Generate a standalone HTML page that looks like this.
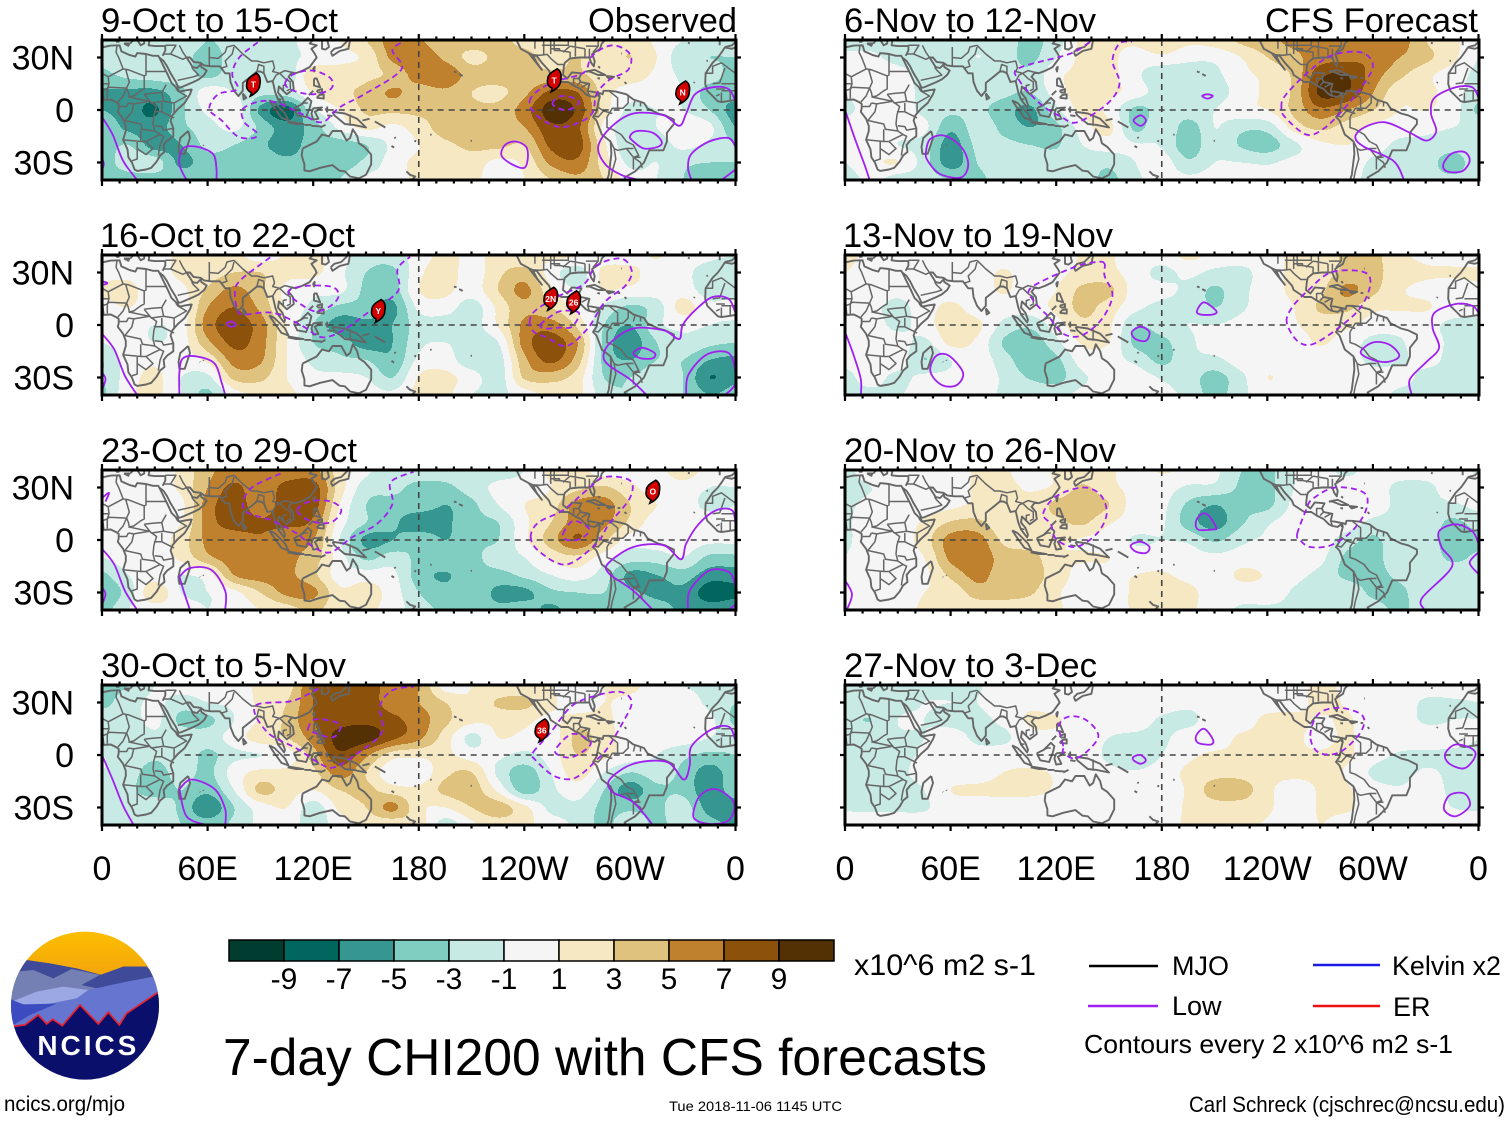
<!DOCTYPE html>
<html lang="en">
<head>
<meta charset="utf-8">
<title>7-day CHI200 with CFS forecasts</title>
<style>
html,body{margin:0;padding:0;background:#fff}
svg{display:block}
text{font-family:"Liberation Sans",sans-serif;fill:#000}
</style>
</head>
<body>
<svg id="chart" xmlns="http://www.w3.org/2000/svg" width="1510" height="1121" viewBox="0 0 1510 1121">
<rect x="0" y="0" width="1510" height="1121" fill="#fff"/>
<g id="panels"></g>

<g font-size="34">
<text x="101" y="32" textLength="237" lengthAdjust="spacingAndGlyphs">9-Oct to 15-Oct</text>
<text x="100" y="247" textLength="255" lengthAdjust="spacingAndGlyphs">16-Oct to 22-Oct</text>
<text x="101" y="462" textLength="256" lengthAdjust="spacingAndGlyphs">23-Oct to 29-Oct</text>
<text x="101" y="677" textLength="245" lengthAdjust="spacingAndGlyphs">30-Oct to 5-Nov</text>
<text x="844" y="32" textLength="252" lengthAdjust="spacingAndGlyphs">6-Nov to 12-Nov</text>
<text x="843" y="247" textLength="270" lengthAdjust="spacingAndGlyphs">13-Nov to 19-Nov</text>
<text x="844" y="462" textLength="272" lengthAdjust="spacingAndGlyphs">20-Nov to 26-Nov</text>
<text x="844" y="677" textLength="253" lengthAdjust="spacingAndGlyphs">27-Nov to 3-Dec</text>
<text x="588" y="32" textLength="149" lengthAdjust="spacingAndGlyphs">Observed</text>
<text x="1265" y="32" textLength="213" lengthAdjust="spacingAndGlyphs">CFS Forecast</text>
</g>

<g id="colorbar"></g>
<text x="854" y="975" font-size="30" textLength="182" lengthAdjust="spacingAndGlyphs">x10^6 m2 s-1</text>
<text x="223" y="1075" font-size="51.5" textLength="764" lengthAdjust="spacingAndGlyphs">7-day CHI200 with CFS forecasts</text>

<g>
<line x1="1089" y1="966" x2="1158" y2="966" stroke="#000" stroke-width="2.4"/>
<text x="1172" y="975" font-size="27">MJO</text>
<line x1="1088" y1="1006" x2="1158" y2="1006" stroke="#a020f0" stroke-width="2.4"/>
<text x="1172" y="1015" font-size="27">Low</text>
<line x1="1313" y1="965" x2="1380" y2="965" stroke="#1a1ae6" stroke-width="2.4"/>
<text x="1392" y="975" font-size="27" textLength="109" lengthAdjust="spacingAndGlyphs">Kelvin x2</text>
<line x1="1313" y1="1006" x2="1380" y2="1006" stroke="#f01010" stroke-width="2.4"/>
<text x="1393" y="1016" font-size="27">ER</text>
<text x="1084" y="1053" font-size="26" textLength="369" lengthAdjust="spacingAndGlyphs">Contours every 2 x10^6 m2 s-1</text>
</g>

<text x="4" y="1111" font-size="21" textLength="121" lengthAdjust="spacingAndGlyphs">ncics.org/mjo</text>
<text x="669" y="1111" font-size="14" textLength="173" lengthAdjust="spacingAndGlyphs">Tue 2018-11-06 1145 UTC</text>
<text x="1189" y="1112" font-size="22" textLength="316" lengthAdjust="spacingAndGlyphs">Carl Schreck (cjschrec@ncsu.edu)</text>

<defs>
<clipPath id="logo-clip"><circle cx="255" cy="242" r="222"/></clipPath>
<linearGradient id="logo-sky" x1="0" y1="0" x2="0" y2="1"><stop offset="0" stop-color="#fdc000"/><stop offset="1" stop-color="#ef9a10"/></linearGradient>
</defs>
<g transform="translate(0,925) scale(0.3333)">
<g clip-path="url(#logo-clip)">
<rect x="20" y="10" width="480" height="200" fill="url(#logo-sky)"/>
<polygon points="80,105 150,115 230,130 305,150 370,125 440,125 490,170 490,260 20,260 60,110" fill="#3f4a98"/>
<polygon points="50,140 100,135 160,160 215,132 300,150 245,180 300,190 150,260 20,240 30,190" fill="#7480b4"/>
<polygon points="245,180 300,150 370,125 440,125 460,155 380,170 300,192" fill="#3f4a98"/>
<polygon points="40,228 110,200 190,185 265,195 230,220 130,240 70,238" fill="#9ca8e4"/>
<polygon points="30,225 70,238 130,240 230,220 265,195 380,170 460,155 480,205 480,330 30,330" fill="#6676d0"/>
<polygon points="30,222 70,238 170,236 90,270 40,300 30,300" fill="#3c4cc0"/>
<polygon points="30,305 75,300 115,270 140,297 158,283 187,302 240,240 295,297 325,262 358,300 380,265 470,205 490,200 490,480 20,480" fill="#0a0f6c" stroke="#e8202a" stroke-width="5"/>
</g>
<text x="112" y="390" font-size="84" font-weight="bold" style="fill:#fff" textLength="297" lengthAdjust="spacing">NCICS</text>
</g>
</svg>

<script>
/* ---------- axis + legend values ---------- */
const lonTickLabels = ["0","60E","120E","180","120W","60W","0"];
const lonTickValues = [0,60,120,180,240,300,360];
const latTickLabels = ["30N","0","30S"];
const latTickValues = [30,0,-30];
const valueLevels = [-9,-7,-5,-3,-1,1,3,5,7,9];
const bandColors = ["#003c30","#01665e","#35978f","#80cdc1","#c7eae5","#f5f5f5","#f6e8c3","#dfc27d","#bf812d","#8c510a","#543005"];
const gridLatitudes = [40,30,20,10,0,-10,-20,-30,-40];
const gridLonStep = 15;

/* ---------- CHI200 anomaly, rows north to south, columns 0..360 every 15 deg ---------- */
const chiOct09 = [
[-2,-2,-2.5,-2,-3,-2.5,-2,-1.5,0,1,3,6,5.2,3.5,4,3.5,2.5,2,2,1,2.5,0.5,-1,-2,-2],
[-2.5,-2,-2,-2.5,-3.5,-2.5,-2.5,-1.5,-0.5,0.5,1.5,5.5,6.5,4.5,2.5,3.5,3.5,2.5,3,2,3,1,-2.5,-3,-3],
[-3.5,-2.5,-2,-2,-3.5,-2,-2.5,-2.5,2.5,2,2.5,3.5,6,6.5,4,4,3.5,3.5,3.5,2,2,0.5,-1.5,-2,-4],
[-5.3,-5.5,-5.7,-3.5,0,-1,-2.5,-2,1,2.5,3.5,5.3,4,4.5,3,2.5,4.5,7.5,7,2,0,0,-1,-4,-4],
[-5,-6,-7.3,-3.5,-0.5,0.5,-5.5,-8,-1.5,1,3.3,3.5,3.5,3.5,3.5,3.7,6,10,8.5,2,-1.5,-1,-1,-3,-6],
[-3.5,-5.5,-6,-3.5,-2,-0.5,-3.5,-6,-4,-0.5,1.5,0.5,2,4,4,4,5,8.5,7.5,0.5,-2,-1,0.5,-0.5,-5],
[-4,-3,-6,-5,-2.5,-3,-4.5,-6,-4,-4,-3,-0.5,1,2.5,3.5,3.5,3,7.5,8,1.5,-2.5,-2,-0.5,-1.5,-3],
[-4,-2,-2,-5.5,-3.8,-3.8,-3.7,-4.5,-4,-4,-2.5,0,1.5,1.5,2,0.5,1.5,5.5,6.5,2,-1.5,-1,-2.5,-3,-3],
[-4,-4,-4,-3.5,-3.5,-4,-4,-4,-4,-3,-0.5,0,1.5,1.5,1.5,0,1,3,4.5,3,0,-1,-3,-5,-3.5]];
const chiOct16 = [
[0,0,0,1.5,1.5,1.5,0,1.2,1.5,0,-2,-2,0,1.5,0.5,1.5,1,1.5,1.2,0,0,1.2,0,-0.5,-1],
[0.5,0.5,0,1.5,2,3,3,1.5,1.5,-0.5,-3,-3.5,0.5,2,0,2.5,3.8,0,-2,1.5,1.5,0,-0.5,-2,-3],
[1.3,1.5,0,0.5,3.3,5.5,3.5,0.5,-0.5,-0.5,-3.5,-4,1,1.5,0,3,5.5,1.5,-1,1,0.5,0,0,-2,-2],
[0.5,1,0,-0.3,5,7,4.5,0.5,-1.5,-3.5,-3.8,-5.5,-0.5,0,-2,1.5,4.5,3,0.5,-1.5,-3.5,-2,1.8,-0.5,0],
[0,0,-1,0,6,8,6,1,-3,-6,-5.5,-5,-2,-2,-2,1.2,5.5,6,2.5,-3,-5,-1.5,-0.5,-1,-1.5],
[-1,0,-1,0,4.5,7.5,5.8,1,-3,-4,-6,-5,-1.5,-1,-2,-1,6,8,5,-3.5,-6,-3,-1.5,-2.5,-3],
[-3,0,0.5,0,1.5,5.8,5.3,1,-1.5,-2.5,-3,-4.5,-0.5,0,-2.5,-2,4.5,7.5,4,-3.5,-5,-3,-3,-5,-5.5],
[-3,0,1.5,-1,-1.5,3.5,3.5,1,-0.5,-0.5,-1,-3,1.2,1.5,0,-2,3.3,3.8,2,-3,-3,-1.5,-3,-7,-5.5],
[-3.5,0.5,1.5,-1,-3.5,0,1.5,1.5,0,0,0,-0.5,1.5,1.5,-1,-1.5,0,1.5,1.5,-2,-3,-1.5,-3,-5,-4]];
const chiOct23 = [
[0,0,0,1.5,4.5,5.5,5.5,5.5,5.5,2,-0.5,-2,-2,-2,-2,-2,-1,1.5,1.5,0,0,0,2.5,0,0],
[0,0,0,1.5,5,7.5,5.5,7.8,8,2,-2,-2.5,-3.5,-3.5,-2,-0.5,0,1,2.5,3.3,1.5,0,0,-1,-1],
[0.5,0,-0.5,0.5,6,8,6,8,8,1,-3,-3.7,-3.8,-5,-3.5,-1,1,2,5.8,6,3,1,0,-1.5,-1],
[0.5,0,0,1,6,7.8,7.2,7.5,6.5,0,-3,-4.5,-6.5,-5.5,-3.5,-3,0.5,3,6,5.5,2.5,0,0,0,0],
[0,0,0,2,5.5,6,6.8,5.5,5,-1,-5.5,-5,-3.5,-5,-3.3,-3,0.5,4,7,3.5,0,0,0,-0.5,-0.5],
[-1,0,0,1.5,4.5,6,6.5,5.5,4,0,-3.5,-2,-3.5,-3.5,-3.5,-2,-1,1.5,2.5,0,-2,-2,-1,-3.5,-3.5],
[-3.5,-1,0,-1,0,5,6,5.5,3.5,0,0,-0.5,-4,-5.2,-3.5,-3.7,-2.5,-1,0,-2,-5.5,-5,-4,-6,-6],
[-5,-2,2.5,-1,-1,0.5,3,5.5,5.5,1.5,2,0,-3,-4.3,-3.5,-5.5,-5.5,-3.5,-3,-3,-4.5,-5.5,-5.5,-8,-7.5],
[-4,-1,0,0,-1,0,1,2,3.5,1.5,1.5,0,-2,-3.5,-3.7,-4.5,-4,-5.5,-3.8,-3.5,-3,-4,-5.5,-6,-5.5]];
const chiOct30 = [
[-3.5,-3,-1,0,0,0,1.5,2,7.2,7.5,8,6,5,0,1,1,1.5,1,0,1,1.5,0,-1,-1.5,-2],
[-3.5,-2,-0.5,-2,-1,-0.5,1.5,3,7,8,8,6,5,3,1.2,3.3,3.5,1.5,-0.5,1,0.5,0,0,-1.5,-3],
[-2,-2,-0.5,-3.5,-3.5,-1,1.3,3.5,7,8,8.5,7.5,6,3.5,1.5,1.5,1.5,0.5,2,1.5,0,0,0,-0.5,-3.5],
[-1.5,-2.5,-1.5,-1.5,-2,0,2,3,6,10,10,7.5,5.5,2,-1.5,1,0.5,0,3.5,2,0,0,0,-1,-2],
[-1,-1.5,-2.5,-1.5,-3.5,-1.5,-1,0,4,8.5,5.5,2,1.5,1.5,0,-0.5,-1.5,0,3,1.5,0,-1,-2.5,-3.5,-3],
[-1,-2,-4,-2,-3.5,0,1.5,1.5,2.5,6,3,-0.5,-0.5,2.5,3,-1.5,-4,-1,2,-1,-3,-2,-3.5,-6,-3.5],
[-1.5,-2.5,-4,-3,-4.5,-1,3.5,2,1,3,3.5,2,1.5,3.5,4,0.5,-4,-1.5,0,-3,-6,-3.5,-3.5,-6.5,-3.5],
[-3,-2,-1.5,-3.5,-6.5,-3,0,1,-2,1.5,3,5.5,1.5,1,3,4,1.5,-1.5,-1.5,-3.5,-3.5,-3.5,-2,-6,-6.5],
[-2.5,-1,-1.5,-3,-4,-2.5,-0.5,0,-2,0,1.5,1.5,2,-2,0.5,2,1.5,0,-1.5,-3.5,-1.5,-3.5,-2,-4,-5.5]];
const chiNov06 = [
[-2,-2,-2,-2,-1.5,-1.5,-2,-3.5,-2,1.5,1.5,1.5,3,1.5,2,3.5,4.5,5.5,5.5,6,5.5,6,3,1.5,0],
[-0.5,-0.5,-1.8,-2,-2.5,-1,-2,-3.5,-1,1.5,1.5,0,0.5,-0.5,-0.5,1,3,4.5,6,6.5,6.5,5,3.5,1.5,-1],
[-0.8,0,0,-2,-2,-2,-2,-2.5,0.5,1.5,1.5,-0.5,-2.5,-2,-1.5,0.5,1.5,3.5,8.5,9,6,3.5,1.5,0,-1.5],
[-0.8,0,0,-1.5,-2,-2,-2.5,-3,0,2,1.5,0,-2,-1.8,-2,0,1.5,3.5,9.5,9,5,1.5,1.5,0,-2],
[-1.5,0,0,-1.5,-2.5,-2.5,-4,-5.5,-1.5,1.5,0.5,-3.5,-2,-1.8,-1,0.5,1,3.5,6.5,5,3,1,1,0,-3.5],
[0,0,0,-0.5,-4.5,-2,-3.5,-5,-3.5,0,1.5,-3.5,-1,-4,-1,-2.5,-2.2,1.8,3.5,2,0.5,0,-0.5,-1,-1.5],
[-0.5,0,-1,-2,-6,-2.5,-2.5,-3,-3.2,-1,0,-0.8,-1.2,-4.2,-1.5,-3.2,-4,-1.5,0.5,1,0,-1.5,-1.5,-2,-2],
[-1,0.5,1,-2,-6,-3,-2,-2,-2,-2,-2.5,-1,0,-2.6,-1,-1,-1.2,-0.5,-0.5,0.5,-1.5,-1.8,-2,-4,-1.5],
[-2,-0.5,-2,-2,-3,-3.5,-2,-2,-1.5,-2,-3.5,-1.5,0,-0.5,0,0,-0.5,-0.5,-1,0,-2,-2,-2,-2.5,-2]];
const chiNov13 = [
[1.5,0.5,0,0,0,0,0,0,0,1.2,1.2,0,0,1.5,0.5,0,0,1.5,1.5,3.5,3.5,1.5,0.5,0,0],
[1,0,0,0,0,0,1.2,0,0.5,1.5,1.5,0,-1.5,-0.5,-1.5,-1.5,0,1.5,2,3.5,3.5,2,1.3,1.3,1.3],
[0,0,-0.5,0,0,0,1.2,0,1,3.5,3.5,0,-0.5,-1.5,-3.3,-1.5,0,1.5,2.5,5.5,3.5,1.3,0.5,0,0.5],
[0,-0.5,-1.5,0,1.5,0,0,0,1.5,3.5,2,-0.5,-1.5,-1.5,-3,-1.3,0,1,3.3,3.5,1.5,1.2,1.2,0,-0.5],
[0,0,-1.5,0,2.2,1.5,-1.5,-2.5,0,2.5,1.3,-2.8,-2,-1,-1,-0.3,0,0.8,1.8,1.5,0,-0.3,-0.3,-1.5,-1.3],
[-0.3,0,0,-1.5,1.5,0.6,-3.2,-4.5,-1.5,1.2,1,-3.5,-3.5,-1.5,0,0,0,0,1.2,0,-1.5,-1.2,0,-1.5,-1.5],
[-0.5,0,0,-3,-1,0,-2,-4.5,-3.5,0,-0.3,-1.5,-3.5,-1.5,-1.5,0,0,0,0,0,-1.5,-1.3,-0.5,-1.5,-1.5],
[-1.5,-0.3,-1.5,-0.5,-0.5,0,-1.3,-3.2,-3.7,-1.3,-0.3,0,-1.2,-2,-3.8,-1.5,1,0,0,0,0,-0.3,-1.5,-1.5,-1.5],
[-1.5,-1.5,-1.2,0,0,0,-1.3,-1.3,-1.5,-0.5,0,0,-0.5,-1.5,-3.8,-1.5,0,0,0,0,0,-1.5,-1.5,-1.5,-1.5]];
const chiNov20 = [
[-1.5,0,0,0,0,1.2,1.3,0,1.3,1.5,1.3,0,1.2,0.5,-0.5,-3,-3.5,-1,-0.3,-1.5,0,0,0,-0.5,-1.2],
[-1.5,-1,0,0,0,1.3,1.5,0.8,1.3,3.3,1.5,0.5,0,-1.3,-1.5,-3.3,-3.5,-1,0,0,0,-1.5,-1.5,0,-0.5],
[-1.3,-0.5,0,0,0.5,1.4,1.5,1.5,3.5,4.3,3,0,-0.5,-3.4,-5,-3.5,-3.5,-0.5,0,0,0,-1.5,-1.5,-1.3,-0.5],
[-1.3,0,0,1.3,3.2,3.5,1.5,1.5,2.5,3.3,1.2,0,-0.7,-4,-5.8,-3.3,-1.3,0,0,0,-1.5,-1.5,-1.5,-3.5,-2],
[-1.3,0,0,2,5.8,6,2.5,1.3,1.3,0.8,0,-1.2,-1,-1.4,-3.3,-1.5,-0.6,0,0,-2,-3.4,-1.5,-1.5,-4.5,-3.5],
[-1,0,0,1,5.5,6.3,4.2,4,1.3,1.2,1,0,0,0,-0.5,0,0,0,-0.5,-3.4,-3.7,-1.5,-1.5,-3.5,-2.5],
[-1,0,0,0.5,3.5,5.6,4,4,2,0.3,0.5,1,1.2,0.5,0,1.3,0.8,-0.5,-1.5,-3.5,-3.7,-2.5,-1.5,-1.5,-1.5],
[-0.5,0,0,1,1.5,4,4,3.3,1.3,0,0,1.3,1.5,1.5,0,0,0,-1.2,-1.5,-1.5,-3.5,-3.5,-1.5,-1.5,-1.5],
[0,0,0.5,1.2,1.5,1.5,1.5,1.5,1.3,0,0,1.3,1.5,1.3,0,-1.3,-1.3,-1.3,-1.3,-1.5,-2,-3.5,-1.5,-1.5,-1.5]];
const chiNov27 = [
[-1.5,-1.5,-1.5,-1.5,-1.3,-1.2,0,0,0,0,0,0,0,0,0.8,0,0,0.3,1.5,0.5,0,0,0,0,0],
[-1.3,-1.5,-1.5,-1,-1,-1,0,0.5,0,0,0,0,0,-0.5,0,0,0,0.3,1.5,0.8,0,0,-1.3,-1.2,-1],
[-2.5,-3,-1,-1,-1.5,-1.5,-0.5,1.3,1.2,0,0,0,-1.3,-1.5,0,0,1.5,1.5,0.8,1.2,0,0,-1.3,-1,-1],
[-1.3,-1.3,-1.2,-1,-0.2,-1.4,-1.4,0.3,0.5,0,-1,-1.5,-1.4,0,0,1.3,1.3,1.3,0.5,1.2,0,0,0,-0.5,-1],
[-3,-1.3,-1.3,-0.8,0,-0.3,0,0,0.3,0,-1.4,-2.5,-1,0.6,1.3,1.3,1.3,1.2,1.2,1.3,-0.3,-1.2,-1.3,-1.3,-1.3],
[-1.3,-1.3,-1.3,-0.5,0,0,1,1.3,0.8,0,-0.5,-0.8,0,1.4,2.2,2.2,1.5,1.5,1.3,0.8,-1.3,-1.5,-0.8,-1.3,-1.3],
[-1.2,-1.3,-1.3,-1,1,1.3,1.5,1.5,0.8,0,0,0,0,1.3,4,4,1.5,0,1.2,1.2,-0.3,-0.8,-0.2,-1.3,-1.3],
[-1.2,-1.3,-1.3,-1.2,0,0,0,0,0,0,0,0,0,1.3,2,2,1.3,-0.1,1.2,1.3,0,0,0,-1,-1.2],
[0,0,0,0,0,0,0,0,0.3,0,0,0,0,1.3,1.3,1.3,0.8,0,1,0,0,0,0,0,0]];

/* ---------- low-frequency contours as lon,lat sequences ---------- */
const lowSolidOct09 = [[0,-4,6,-14,12,-29,20,-40],[0,-27,1,-31,0,-34],[48,-40,44,-31,46,-22,54,-21,63,-25,65,-33,65,-40],[227,-26,229,-20,235,-18,241,-21,242,-27,240,-33,233,-31,227,-26],[360,5,356,12,347,13,337,9,332,-2,328,-9,319,-3,302,-2,289,-10,282,-21,286,-31,295,-37,305,-40],[300,-15,304,-12,313,-13,318,-18,316,-21,308,-22,302,-18,300,-15],[335,-40,333,-33,335,-25,345,-18,356,-16,360,-21],[360,-34,352,-40]];
const lowDashOct09 = [[88.5,38.7,78,30,74,20.5,77,12,66,9,61,0.5,68,-6,77,-15,86,-16,88,-13,81,-7,80,0.5,90,5,100,4,113,-2,125,-7,135,1.5,149,9,170,23,165,34,171,39],[104,15,109,20.5,120,22.5,130,18,130,12,120,9,109,11,104,15],[243,5,249,12,260,17,274,21.5,278.5,31,290,37,300,32,299,23,288,17,281,9,278.5,-2,269,-8,258.5,-9.5,247,-3,243,5],[256,3.5,261,8,270,6,270,2.5,263,0,256,3.5]];
const lowSolidOct16 = [[0,-5,7,-14,13,-29,20,-40],[0,25,3,24,1,23],[0,-27,2,-31,0,-37],[44,-40,44,-27,46,-19,54,-18,64,-22,68,-33,70,-40],[71,1,74,2,76,0,73,-1,71,1],[309,-39.5,300,-31,288,-23,285,-17.5,289,-10,302,-2,319,-3,328,-8,330,0,337.6,9,347,16,356,15,360,7],[302,-16,307,-13,314,-16,313,-19,306,-19,302,-16],[332,-40,333,-29,342,-18,352,-15,358,-18.5,360,-33,354,-40]];
const lowDashOct16 = [[95.6,38.7,78,25,75.5,17,77,9,80,6,97,7,113,0,125,-7,137,-3,151,7,168,19,168,32,175,39],[106,18,113,22,130,22,134.5,17,130,11,120,8,106,18],[243,1.5,246,8,258.5,16,274,23.5,281,34,295,38,301,31,297.5,22.5,285.6,13,276,-2,264,-12,252.6,-7,245.5,-4,243,1.5],[249,0,255,5,261,8,271,7,267,-1,260,-1.5,252,-2,249,0]];
const lowSolidOct23 = [[0,-5,7,-14,13,-29,20,-40],[0,24,4,27,2,22],[0,-27,2,-31,0,-37],[44,-21,50,-16,62,-17,70,-29,70,-40],[44,-21,47,-31,50,-40],[313,-40,302,-29,288,-19,288,-13,302,-4,319,-3,329,-11,332,-2,339,9,349,17,358,17,360,9],[333,-40,334,-29,345,-17.5,356.5,-18.5,360,-27],[360,-37,356,-40]];
const lowDashOct23 = [[101.5,38,84,29,81,17,97,11,111,3.5,120,-4,130,-7,142,1.5,156,9,165,20.5,164,33,177,39],[111,17,118,22,130,22,136,17,130,10,118,11,111,17],[243.6,1.5,248,10,262,17,276,29,285.6,36,300,34,300,24,288,9,281,-2,264,-14,249,-7,243.6,1.5],[262,3.5,268,11,277,6,271.5,0.5,264.5,0,262,3.5]];
const lowSolidOct30 = [[0,0,6,-14,12,-29,18,-40],[44,-19.5,51,-14,64,-19.5,70,-31,70,-40],[44,-19.5,48,-35,59,-40],[313,-40,302,-27,290,-21,288.5,-14,302,-5,321,-4,330.5,-14,334,-6,335,5,347,15,356.5,16,360,8],[336,-33,340,-23,349,-19.5,359,-27,356.5,-37,347,-39.5,338,-37.5,336,-33]];
const lowDashOct30 = [[123,38,108.6,31,87,28,94,13,111,3.5,124,-5,132,-7,146,1.5,159,13,158,28,165,37,177,39],[117,15,121.6,20.5,134.5,18,134.5,13,130,10,120,13,117,15],[245,1.5,255,13,267,28,281,34,295,36,301,30,296,18.7,288,5,282,-2,269,-13,257,-12,245.5,-2,245,1.5],[258.5,4.4,267,12,276,9,277,5,267,-1.3,258.5,0.5,258.5,4.4]];
const lowSolidNov06 = [[0,0,6,-17.5,11,-31,14,-40],[46,-24,48.4,-16.6,56.6,-14.7,66,-21,70,-31,66,-38.5,54,-36.6,47,-29,46,-24],[164,-6,168,-3,171,-6,168,-9,164,-6],[203,8,206,9,209,8,206,6.5,203,8],[317.5,-39.5,311.6,-29,295,-21,290,-15.6,295,-10,307,-7,321,-13,330.5,-17.5,336,-12,333,-2,335,7,347,13,356.5,13,360,7],[340,-31,344.6,-25,352,-24,355,-29,350.6,-35,342,-35,340,-31]];
const lowDashNov06 = [[139,38.7,127.5,32,99,24,99,17,111,3.5,123,-4,132,-7,149,3.5,156,15,152,28,156,38,163,39],[248,1.5,250,8,262,20.5,276,31,293,33,300,26,295,15,283,0,271.5,-11,262,-14,250,-4,248,1.5]];
const lowSolidNov13 = [[0,-4,5,-17.5,9,-31,9,-40],[48.4,-25,52,-17.5,59,-17.5,67,-27,64,-34,57,-35,51,-31,48.4,-25],[200,8,204,13,211,8,209,6,202,6,200,8],[163,-4,168,-1,173,-4,171,-9,165,-8,163,-4],[322,-39.5,321,-31,330.5,-21,337.6,-13,334,-2,335,7,347,12,356.5,11,360,7],[293,-15.6,300,-10,309,-11,315,-17.5,309,-21,300,-20,293,-15.6]];
const lowDashNov13 = [[147.5,35,143,36,130,33,106,21.5,107,14,116,4.4,124,-5,134.5,-6,146,3.5,152,17,147.5,28,147.5,35],[251,1.5,254,10,263,19.6,276,30,294,30.5,298.6,24,293,10,280,-2,265.6,-11,257,-9,251,1.5]];
const lowSolidNov20 = [[0,-23,4,-31,1,-40],[199.5,11,203,15,206.6,14,211,7,209,6,200.6,6,199.5,11],[162.4,-3,168,-1,173,-4,171,-7.4,165,-6.5,162.4,-3],[329,-39.5,328,-33,345,-15,339,-4,337.6,5,347,9,356.5,5,360,-2],[360,-7,355,-13,360,-19.4]];
const lowDashNov20 = [[112.6,15,120,25,135,30,145,26,148.7,15,143,3.5,131,-4,120,0.5,117,9,112.6,15],[257,3.5,262,17,265.6,23.4,278.6,30,295,27,296,17,288,5,276,-3,264.4,-4,258.5,0,257,3.5]];
const lowSolidNov27 = [[199.5,11,204,15,209,9,208,6,200.6,7,199.5,11],[164,-1,168,0,171,-3,168,-5,164,-3,164,-1],[341,0.5,347,6,356.5,3.4,358,-1,352,-7.6,343.5,-5,341,0.5],[340.4,-31,343.5,-23,352,-22,355,-29,347,-35,340.4,-31]];
const lowDashNov27 = [[124,5,121.6,17,127.5,22,137,20,144,11,137,1.5,130,-2,124,1.5,124,5],[264.4,11,269,23.4,281,27,294,22.5,293,13,281,1.5,269,1.5,264.4,11]];

/* ---------- tropical cyclone tracks: lon, lat, label ---------- */
const stormsOct09 = [[86,14.5,"T"],[257,17,"T"],[330,10,"N"]];
const stormsOct16 = [[157,8,"Y"],[255,15,"2N"],[268,13,"26"]];
const stormsOct23 = [[313,27.6,"O"]];
const stormsOct30 = [[250,14,"36"]];
const stormsNone = [];

/* ---------- basemap polylines (lon,lat) ---------- */
const coastLines = [
[0,5.7,5,6,8,4.5,9.5,3.5,9.5,1,9,-1,12,-5,13.5,-9,13.5,-12,12,-17,14.5,-22.5,15,-27,17,-30,18.5,-34,20,-34.8,25,-34,28,-33,31,-29.5,33,-26,35.5,-24,35,-20,37,-17.5,40.5,-15,40.5,-10.5,39,-6,40,-3,43,0.5,47,4,50,9,51,11.7,48,11.3,44,10.5,43,12,39.5,15.5,37,21,35,25,33.5,28,32.5,30,32,31,29,31,25,32,20,32.5,19,30.5,15.5,31.5,11,33.5,10,37,5,36.8,0,35.8],
[360,35.8,358,35,354,35.8,352.5,33.5,350,30,347,27,343,21,342.8,15,344,11,347,8,350,5,352,4.5,355,5,360,5.7],
[351,37,351,40],[354,36,358,37,360,39],[0,39,1,40],
[8,39,9.5,39,9.5,41,8,41,8,39],[12.5,38,15.5,38,15,36.7,12.5,38],[16,38,18,40],[20,40,22,37,24,38,24,40],[27,40,26.5,37,30,36.5,36,36.5,36,34,34.5,31],
[32.5,30,35,28,37,25,39,21,42,16,43.5,12.7,45,13,52,16,55,17.5,58,20,59.5,22.5,56.5,24.5,56,26,54,24,51.5,24.5,50,27,48,30,50,30,52,27.5,56,27,58,25.5,62,25,67,25,70,21,72.5,21,73,16,75,11,77.5,8,80,11,80,15.5,85,19.5,88,22,90,22,92,21,94,16,97,16.5,98.5,10,100,6,103.5,1.5,104,3,102.5,7,100,10,100.5,13.5,103,11,105,9,107,10.5,109,12,108.5,16,106,19,108,21.5,110,21,114,22.5,118,24.5,122,30,121,32,119,35,122,37,118,38,120,40],
[125,40,125,35,127,34.5,129,36,128,40],[130,33,131,31,135,33.7,140,35,141,40],[140,40,136,36,132,35,130,33],
[121,25,120.5,22,120,23.5,121,25],[120.5,18,122,18,124,13,120.5,14,120.5,18],[122,7,126,6.5,126,9,123.5,8.5,122,7],[117.5,8.5,120,11],[122,11,125,12,125,10,123,10,122,11],
[109,1,113,3,117,7,119,5,118,1,116,-4,111,-3,109,1],[95,5.5,98,4,104,-2,106,-6,102,-4.5,98,1,95,5.5],[105.5,-6.5,114.5,-8,110,-8,105.5,-7],[120,1,125,1.5,121,-1,123,-5,120,-5.5,119,-2,120,1],[115,-8.5,119,-8.5],[119,-9,125,-9.5],[124,-10,127,-8.5],[127,1,128,-1,128,2],[128,-3,131,-3.5],
[131,-1,138,-2,145,-5,150,-10,143,-8.5,138,-8,132,-3,131,-1],[148,-6,152,-5],[155,-6.5,161,-10],[166.3,-15.5,166.8,-16.2],[164.5,-20.5,166,-21.5],[177.5,-17.5,178.5,-18],[186.5,-14,187.3,-14.2],[209.5,-17.5,210.2,-17.7],
[114,-22,113.5,-26,115,-31,115,-34.5,118,-35,124,-33,131,-31.5,135,-34.7,138,-35,141,-38,146,-39,150,-37,153,-31,153,-25.5,149,-21,146,-19,145,-15,142.5,-11,141,-16,139,-17.5,136,-12,131,-12,129,-15,125,-14,122,-18,118,-20,114,-22],
[173,-35,175,-37,178,-38,176,-40],[49,-12,50,-16,47,-25,44,-25,43.5,-21,44.5,-16,49,-12],[80,9.5,82,7,80.5,6,80,9.5],[57.5,-20,57.8,-20.4],[55.5,-21,55.8,-21.2],[200,22,201.5,21.5],[203,20.5,205,19.5],[343.5,28,344.3,28.2],[336.3,15.5,336.8,16],
[235.5,40,238,35,242.5,32.5,246,28,250,23,247,27,245,31,247,31,250,27,254,22.5,255,20,261,16,265,16,268,14,272,12,275,9,277,8,280,7.5,282,9,283,8],
[283,8,282,4,281,-1,279,-4,281,-6,284,-14,289,-18,289.5,-25,288,-37,287,-40],
[298,-40,297,-38.5,303,-35,307,-31,308,-30,311,-23,319,-23,321,-18,321,-13,325,-8,325,-5.5,320,-3,316,-2,310,1,308,4,302,6,298,9,292,10.5,288,11,285,11,284.5,9,283.5,9.5,276,11,277,15,272,16,271,18,272.5,21,267,21.5,264.5,18,262,20,262.5,25,263,27,266,29.5,271,30,277,30,278,27,279.5,25,280,28,278.5,32,283,35,284,38,286,40],
[275,22,280,23,286,20,282,20,277,22,275,22],[286.5,19.5,291,19,288,18,286.5,19.5],[281.5,18.2,283,18],[293,18.3,294.5,18.3],[297,16,298,15],[282,25,283,24],[295,32.3,295.4,32.3],[333,38.5,334,38]];
const borderLines = [
[25,32,25,20,24,19.5,15,23,12,23.5,9.5,30,8,33,8.5,37],[25,22,36.5,22],[15,23,13.5,23,15.5,16,14,12.5,15,10,15.5,7.5,18,8,22,11,24,12,24,15.5,24,19.5],[3.5,19,12,23.5],[3.5,19,4,15,3,12,4,13,14,12.5],[3,12,3,6.5],[14,12.5,12,8,9,4.5],[0,21,3.5,19],[0,15,4,15],[0,11,3,12],[1,6,0.5,11],
[24,9,28,9.5,34,10,35,5,28,4,24,9],[36.5,14.5,34,10,35,5,41,4,48,8,43,11,42,12.5],[41,4,41,-1.5],[34,-1,41,-4.5],[34,4,34,-1],[15,4,18,3.5,27,5,31,2,29.5,-3,29,-8,30,-12,23,-11,22,-8,13,-6,17,-1,18,3.5],[30,-9,34,-9.5,35,-11.5,40.5,-10.5],[22,-11,22,-18,25,-18,30,-15.5,33,-14,30,-12],[12,-17,22,-18],[20,-18,20,-28,17,-29],[20,-22,25,-25.5,29,-22,25,-18],[33,-14,35,-15,33,-20,32,-26],[15,7.5,27,5],[10,2,14,2,15,4],[29.5,-1,34,-1],
[343,21,347,21,347,25,352,27,360,21],[347,15,351,15.5,354,24],[352,15,356,15,360,15],[352,11,360,11],[357,5,357,11],[352,4.5,352,10],[349,12,354,12],[349,8,351,9],
[35,32,39,32,46,29,48,30],[39,32,42,37,36,37],[44,37,46,33,48,30],[43,17,52,19,55,20,52,23,51,24.5],[61,25,61,31,61,36],[61,30,66,29.5,70,33,71,36,75,37],[68,24,71,25,70,28,74,32,75,36],
[75,37,80,32,85,28,88,28,92,27,97,28,98,24,97,22,101,21,104,22.5,108,21.5],[97,16.5,99,20,101,21],[101,21,104,18,107,16,107,12,105,11],[103,11,103,14,105,14.5],[88,22,89,26,92,25,92,21],[100,6.5,102,6],[110,1.5,115,4,117,4],[141,-2.5,141,-9],
[242.5,32.5,245,31.5,249,31.3,253,31.8,255,29.5,259,26,262.5,26],[268,14,268,18,271,18],[270,14,272,16],[272.5,13,276,15],[276,11,277,8],[282,7.5,283,9],
[280,-3.5,282,-4,285,-0.5,282,1.5],[287,-4,290,1,293,1,293,7,288,11],[299,8,299,4,296,1,293,1],[303,6,302,2],[306,5,306,2],[287,-4,287,-10,290,-11,295,-14,298,-18,302,-20,305,-26,302,-27,306,-30,307,-33],[289,-18,291,-22,293,-23,298,-22,302,-22],[291,-22,292,-28,290,-35,289,-40],[298,-22,302,-27,306,-27],[302,-27,302,-34],[285,-0.5,290,-2],
[246,35,246,40],[251,31.5,251,40],[255,32,255,40],[257,34,257,40],[265,36.5,265,40],[250,37,265,37],[255,35,260,35,260,33.5],[257,34,260,34,266,33,266,30],[262,33,266,36.5],[269,30.5,269,40],[274.5,30.5,274.5,35],[277,30.5,277,35],[279,33,282,36.5,275,36.5],[266,36.5,274.5,35],[282,36.5,282,40]];

/* ---------- panel layout ---------- */
const panelWidth = 634, panelHeight = 140;
const tickLonStep = 10;
const panelList = [
 {id:"oct-09", x:102, y:40, field:chiOct09, solid:lowSolidOct09, dash:lowDashOct09, storms:stormsOct09, lat:true,  lon:false},
 {id:"oct-16", x:102, y:255, field:chiOct16, solid:lowSolidOct16, dash:lowDashOct16, storms:stormsOct16, lat:true,  lon:false},
 {id:"oct-23", x:102, y:470, field:chiOct23, solid:lowSolidOct23, dash:lowDashOct23, storms:stormsOct23, lat:true,  lon:false},
 {id:"oct-30", x:102, y:685, field:chiOct30, solid:lowSolidOct30, dash:lowDashOct30, storms:stormsOct30, lat:true,  lon:true},
 {id:"nov-06", x:845, y:40, field:chiNov06, solid:lowSolidNov06, dash:lowDashNov06, storms:stormsNone, lat:false, lon:false},
 {id:"nov-13", x:845, y:255, field:chiNov13, solid:lowSolidNov13, dash:lowDashNov13, storms:stormsNone, lat:false, lon:false},
 {id:"nov-20", x:845, y:470, field:chiNov20, solid:lowSolidNov20, dash:lowDashNov20, storms:stormsNone, lat:false, lon:false},
 {id:"nov-27", x:845, y:685, field:chiNov27, solid:lowSolidNov27, dash:lowDashNov27, storms:stormsNone, lat:false, lon:true}
];

const NS = "http://www.w3.org/2000/svg";
function make(tag, attrs, parent){
  const el = document.createElementNS(NS, tag);
  for (const k in attrs) el.setAttribute(k, attrs[k]);
  if (parent) parent.appendChild(el);
  return el;
}
function lonToX(p, lon){ return p.x + lon / 360 * (panelWidth - 0.5); }
function latToY(p, lat){ return p.y + (40 - lat) / 80 * panelHeight; }
function bandIndex(v){
  let i = 0;
  while (i < valueLevels.length && v >= valueLevels[i]) i++;
  return i;
}
function cubic(a, b, c, d, t){
  return b + 0.5 * t * (c - a + t * (2 * a - 5 * b + 4 * c - d + t * (3 * (b - c) + d - a)));
}
function sampleField(field, col, row){
  const nr = field.length, nc = field[0].length;
  const r0 = Math.min(Math.floor(row), nr - 2), c0 = Math.min(Math.floor(col), nc - 2);
  const tr = row - r0, tc = col - c0;
  const vals = [];
  for (let r = r0 - 1; r <= r0 + 2; r++) {
    const rr = field[Math.max(0, Math.min(nr - 1, r))];
    vals.push(cubic(rr[Math.max(0, c0 - 1)], rr[c0], rr[c0 + 1], rr[Math.min(nc - 1, c0 + 2)], tc));
  }
  return cubic(vals[0], vals[1], vals[2], vals[3], tr);
}
function drawField(p, g){
  const nr = p.field.length, nc = p.field[0].length;
  const latSpan = gridLatitudes[0] - gridLatitudes[nr - 1];
  const lonSpan = gridLonStep * (nc - 1);
  const parts = bandColors.map(() => []);
  for (let py = 0; py < panelHeight; py++) {
    const lat = gridLatitudes[0] - (py + 0.5) / panelHeight * latSpan;
    const row = (gridLatitudes[0] - lat) / latSpan * (nr - 1);
    let start = 0, cur = -1;
    for (let px = 0; px <= panelWidth; px++) {
      let b = -2;
      if (px < panelWidth) {
        const lon = (px + 0.5) / panelWidth * lonSpan;
        b = bandIndex(sampleField(p.field, lon / gridLonStep, row));
      }
      if (b !== cur) {
        if (cur >= 0) parts[cur].push("M" + (p.x + start) + " " + (p.y + py) + "h" + (px - start) + "v1h" + (start - px) + "z");
        cur = b; start = px;
      }
    }
  }
  parts.forEach(function(list, i){
    if (!list.length) return;
    const path = make("path", {d:list.join(""), fill:bandColors[i], "shape-rendering":"crispEdges"}, g);
    
    
  });
}
function polyPath(p, arr){
  let d = "";
  for (let i = 0; i < arr.length; i += 2) {
    d += (i ? "L" : "M") + lonToX(p, arr[i]).toFixed(1) + " " + latToY(p, arr[i + 1]).toFixed(1);
  }
  return d;
}
function smoothPath(p, arr){
  const pts = [];
  for (let i = 0; i < arr.length; i += 2) pts.push([lonToX(p, arr[i]), latToY(p, arr[i + 1])]);
  const n = pts.length;
  const closed = arr[0] === arr[arr.length - 2] && arr[1] === arr[arr.length - 1];
  const at = function(i){
    if (closed) return pts[((i % (n - 1)) + (n - 1)) % (n - 1)];
    return pts[Math.max(0, Math.min(n - 1, i))];
  };
  let d = "M" + pts[0][0].toFixed(1) + " " + pts[0][1].toFixed(1);
  for (let i = 0; i < n - 1; i++) {
    const a = at(i - 1), b = at(i), c = at(i + 1), e = at(i + 2);
    d += "C" + (b[0] + (c[0] - a[0]) / 6).toFixed(1) + " " + (b[1] + (c[1] - a[1]) / 6).toFixed(1) + " " +
         (c[0] - (e[0] - b[0]) / 6).toFixed(1) + " " + (c[1] - (e[1] - b[1]) / 6).toFixed(1) + " " +
         c[0].toFixed(1) + " " + c[1].toFixed(1);
  }
  return d;
}
function drawStorm(p, s, g){
  const x = lonToX(p, s[0]), y = latToY(p, s[1]);
  const group = make("g", {transform:"translate(" + x.toFixed(1) + "," + y.toFixed(1) + ")"}, g);
  
  
  make("path", {d:"M3,-11.5C7,-9 7.5,-5 6.5,0C6.5,5 3,8.5 -3,11.5C-2,9 -2,8.5 -2,8C-6,6 -7.5,3 -6.5,-1C-6.5,-6 -2,-8.5 3,-11.5Z", fill:"#d40000", stroke:"#000", "stroke-width":"1.6"}, group);
  const t = make("text", {x:0, y:3, "font-size":"8.5", "font-weight":"bold", "text-anchor":"middle", style:"fill:#fff"}, group);
  t.textContent = s[2];
}
function drawPanel(p){
  const root = document.getElementById("panels");
  const g = make("g", {}, root);
  
  

  const defs = make("defs", {}, g);
  const clip = make("clipPath", {id:"clip-" + p.id}, defs);
  make("rect", {x:p.x, y:p.y, width:panelWidth, height:panelHeight}, clip);

  const inner = make("g", {"clip-path":"url(#clip-" + p.id + ")"}, g);
  
  
  drawField(p, inner);

  const coast = make("path", {d:coastLines.map(function(a){return polyPath(p, a);}).join(""), fill:"none", stroke:"#666", "stroke-width":"1.9", "stroke-linejoin":"round"}, inner);
  
  
  const borders = make("path", {d:borderLines.map(function(a){return polyPath(p, a);}).join(""), fill:"none", stroke:"#666", "stroke-width":"1.5", "stroke-linejoin":"round"}, inner);
  
  

  const eq = make("line", {x1:lonToX(p, 47), y1:latToY(p, 0), x2:lonToX(p, 360), y2:latToY(p, 0), stroke:"#444", "stroke-width":"1.6", "stroke-dasharray":"6 5"}, inner);
  
  
  const dl = make("line", {x1:lonToX(p, 180), y1:p.y, x2:lonToX(p, 180), y2:p.y + panelHeight, stroke:"#444", "stroke-width":"1.6", "stroke-dasharray":"6 5"}, inner);
  
  

  p.solid.forEach(function(a){
    const c = make("path", {d:smoothPath(p, a), fill:"none", stroke:"#a020f0", "stroke-width":"1.8"}, inner);
    
    
  });
  p.dash.forEach(function(a){
    const c = make("path", {d:smoothPath(p, a), fill:"none", stroke:"#a020f0", "stroke-width":"1.8", "stroke-dasharray":"6 4"}, inner);
    
    
  });
  p.storms.forEach(function(s){ drawStorm(p, s, inner); });

  const frame = make("rect", {x:p.x, y:p.y, width:panelWidth, height:panelHeight, fill:"none", stroke:"#000", "stroke-width":"3"}, g);
  
  

  let d = "";
  for (let lon = 0; lon <= 360; lon += tickLonStep) {
    const x = lonToX(p, lon).toFixed(1);
    const len = lon % 60 === 0 ? 6 : 3.5;
    d += "M" + x + " " + p.y + "v" + (-len) + "M" + x + " " + (p.y + panelHeight) + "v" + len;
  }
  latTickValues.forEach(function(lat){
    const y = latToY(p, lat).toFixed(1);
    d += "M" + p.x + " " + y + "h-5M" + (p.x + panelWidth) + " " + y + "h5";
  });
  const ticks = make("path", {d:d, fill:"none", stroke:"#000", "stroke-width":"2.2"}, g);
  
  

  if (p.lat) latTickValues.forEach(function(lat, i){
    const t = make("text", {x:p.x - 28, y:latToY(p, lat) + 12, "font-size":"34", "text-anchor":"end"}, g);
    
    
    t.textContent = latTickLabels[i];
  });
  if (p.lon) lonTickValues.forEach(function(lon, i){
    const t = make("text", {x:lonToX(p, lon), y:880, "font-size":"34", "text-anchor":"middle"}, g);
    
    
    t.textContent = lonTickLabels[i];
  });
}
function drawColorbar(){
  const g = document.getElementById("colorbar");
  const left = 229, top = 940, w = 55, h = 21;
  bandColors.forEach(function(c, i){
    const r = make("rect", {x:left + i * w, y:top, width:w, height:h, fill:c, stroke:"#000", "stroke-width":"1.5"}, g);
    
    
  });
  valueLevels.forEach(function(v, i){
    const t = make("text", {x:left + (i + 1) * w, y:989, "font-size":"30", "text-anchor":"middle"}, g);
    
    
    t.textContent = String(v);
  });
}
panelList.forEach(drawPanel);
drawColorbar();
</script>
</body>
</html>
